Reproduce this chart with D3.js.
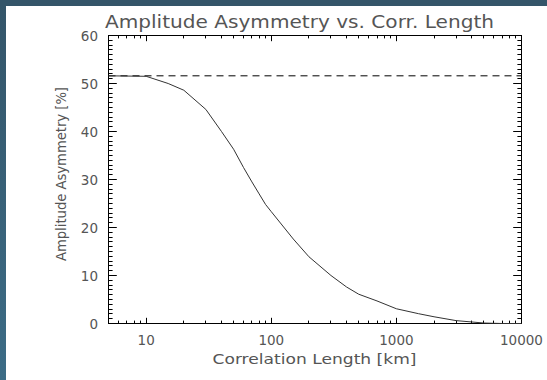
<!DOCTYPE html>
<html>
<head>
<meta charset="utf-8">
<script src="https://cdn.jsdelivr.net/npm/d3@7"></script>
<style>
  body { margin: 0; background: #fff; }
  svg { display: block; }
  text { font-family: "DejaVu Sans", sans-serif; fill: #555; }
</style>
</head>
<body>
<svg width="547" height="380"></svg>
<script>
// data
var corrLength = [5, 10, 15, 20, 30, 40, 50, 60, 70, 80, 90, 100, 150, 200, 300, 400, 500, 700, 1000, 1500, 2000, 3000, 5000, 7000, 10000];
var asymmetry = [51.6, 51.5, 50.0, 48.6, 44.6, 40.0, 36.3, 32.5, 29.5, 27.0, 24.8, 23.3, 17.6, 13.9, 10.0, 7.6, 6.1, 4.7, 3.07, 2.05, 1.4, 0.6, 0.1, 0.0, 0.0];
var asymLimit = 51.6;
var xTicks = [10, 100, 1000, 10000];
var yTicks = [0, 10, 20, 30, 40, 50, 60];

var svg = d3.select("svg"),
    width = +svg.attr("width"),
    height = +svg.attr("height");

// the coloured frame on the left and top
var grad = svg.append("defs").append("linearGradient")
    .attr("id", "frame").attr("x1", 0).attr("y1", 0).attr("x2", 0).attr("y2", 1);
grad.append("stop").attr("offset", 0).attr("stop-color", "#345569");
grad.append("stop").attr("offset", 1).attr("stop-color", "#3c6c86");
svg.append("rect").attr("x", 0).attr("y", 0).attr("width", 6).attr("height", height).attr("fill", "url(#frame)");
svg.append("rect").attr("x", 0).attr("y", 0).attr("width", width).attr("height", 6).attr("fill", "#345569");

// plot box (window.top is read-only, so no "top" here)
var pLeft = 108.5, pRight = 521.5, pTop = 35.5, pBottom = 323.5;

var x = d3.scaleLog().domain([5, 10000]).range([pLeft, pRight]);
var y = d3.scaleLinear().domain([0, 60]).range([pBottom, pTop]);

// minor ticks
var xMinor = [];
[1, 10, 100, 1000].forEach(function (dec) {
    for (var k = 1; k < 10; k++) {
        var v = dec * k;
        if (v >= 5 && v <= 10000 && xTicks.indexOf(v) < 0) xMinor.push(v);
    }
});
var yMinor = d3.range(0, 61, 1).filter(function (v) { return v % 10 != 0; });

var xMaj = 5.7, xMin = 2.9, yMaj = 8.3, yMin = 4.1;

var axes = svg.append("g").attr("stroke", "#000").attr("stroke-width", 1);

function px(v) { return Math.round(v - 0.5) + 0.5; }

// bottom and top
axes.selectAll("line.xb").data(xTicks.concat(xMinor)).enter().append("line")
    .attr("x1", function (d) { return px(x(d)); })
    .attr("x2", function (d) { return px(x(d)); })
    .attr("y1", pBottom)
    .attr("y2", function (d) { return pBottom - (xTicks.indexOf(d) >= 0 ? xMaj : xMin); });
axes.selectAll("line.xt").data(xTicks.concat(xMinor)).enter().append("line")
    .attr("x1", function (d) { return px(x(d)); })
    .attr("x2", function (d) { return px(x(d)); })
    .attr("y1", pTop)
    .attr("y2", function (d) { return pTop + (xTicks.indexOf(d) >= 0 ? xMaj : xMin); });

// left and right
axes.selectAll("line.yl").data(yTicks.concat(yMinor)).enter().append("line")
    .attr("y1", function (d) { return px(y(d)); })
    .attr("y2", function (d) { return px(y(d)); })
    .attr("x1", pLeft)
    .attr("x2", function (d) { return pLeft + (d % 10 == 0 ? yMaj : yMin); });
axes.selectAll("line.yr").data(yTicks.concat(yMinor)).enter().append("line")
    .attr("y1", function (d) { return px(y(d)); })
    .attr("y2", function (d) { return px(y(d)); })
    .attr("x1", pRight)
    .attr("x2", function (d) { return pRight - (d % 10 == 0 ? yMaj : yMin); });

axes.append("rect")
    .attr("x", pLeft).attr("y", pTop)
    .attr("width", pRight - pLeft).attr("height", pBottom - pTop)
    .attr("fill", "none");

// tick labels
svg.selectAll("text.xl").data(xTicks).enter().append("text")
    .attr("x", function (d) { return x(d); })
    .attr("y", 345)
    .attr("text-anchor", "middle")
    .attr("font-size", 13.5)
    .text(function (d) { return d; });

svg.selectAll("text.yl").data(yTicks).enter().append("text")
    .attr("x", 98)
    .attr("y", function (d) { return y(d) + 5; })
    .attr("text-anchor", "end")
    .attr("font-size", 13.5)
    .text(function (d) { return d; });

// titles
svg.append("text")
    .attr("x", 299.5).attr("y", 28)
    .attr("text-anchor", "middle")
    .attr("font-size", 18)
    .attr("textLength", 389)
    .attr("lengthAdjust", "spacingAndGlyphs")
    .text("Amplitude Asymmetry vs. Corr. Length");

svg.append("text")
    .attr("x", 314.5).attr("y", 364)
    .attr("text-anchor", "middle")
    .attr("font-size", 14)
    .attr("textLength", 204)
    .attr("lengthAdjust", "spacingAndGlyphs")
    .text("Correlation Length [km]");

svg.append("text")
    .attr("transform", "translate(66,174) rotate(-90)")
    .attr("text-anchor", "middle")
    .attr("font-size", 14.5)
    .attr("textLength", 174)
    .attr("lengthAdjust", "spacingAndGlyphs")
    .text("Amplitude Asymmetry [%]");

// dashed limit
svg.append("line")
    .attr("x1", pLeft).attr("x2", pRight)
    .attr("y1", y(asymLimit)).attr("y2", y(asymLimit))
    .attr("stroke", "#000")
    .attr("stroke-dasharray", "7,5");

// curve
var valueline = d3.line()
    .x(function (d, i) { return x(corrLength[i]); })
    .y(function (d) { return y(d); });

svg.append("path")
    .attr("d", valueline(asymmetry))
    .attr("fill", "none")
    .attr("stroke", "#333")
    .attr("stroke-width", 1);
</script>
</body>
</html>
